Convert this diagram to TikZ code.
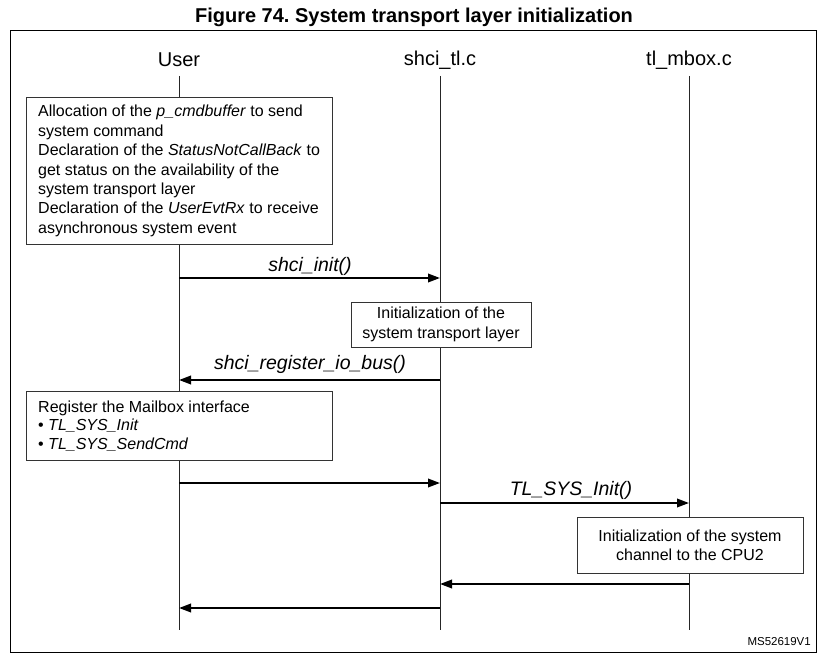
\documentclass[tikz,border=0pt]{standalone}
\usepackage{fontspec}
\setmainfont{Liberation Sans}
\usetikzlibrary{arrows.meta}
\frenchspacing
\begin{document}
\begin{tikzpicture}[x=1pt,y=-1pt,
  hdr/.style={font=\fontsize{20}{24}\selectfont, inner sep=0pt},
  lbl/.style={font=\fontsize{19.5}{23}\selectfont\itshape, inner sep=0pt},
  lifeline/.style={line width=1pt, draw=black!85},
  msg/.style={line width=2pt, -{Triangle[length=12pt,width=8.5pt]}},
  frame/.style={draw=black!80, line width=1pt, fill=white, inner sep=0pt},
  boxtxt/.style={align=left, inner sep=0pt, font=\fontsize{16}{19.4}\selectfont},
  boxc/.style={draw=black!80, line width=1pt, fill=white, align=center, inner sep=0pt,
               font=\fontsize{16}{19.4}\selectfont}]
\useasboundingbox (0,0) rectangle (830,669);
% title and frame
\node[font=\fontsize{20}{24}\selectfont\bfseries, inner sep=0pt] (title) at (414,17) {Figure 74. System transport layer initialization};
\draw[line width=1pt] (10,31) rectangle (816,652);
% headers
\node[hdr] (user) at (179,60) {User};
\node[hdr] (shci) at (440,60) {shci\_tl.c};
\node[hdr] (mbox) at (689,60) {tl\_mbox.c};
\coordinate (uT) at (179,76); \coordinate (uB) at (179,630);
\coordinate (sT) at (440,76); \coordinate (sB) at (440,630);
\coordinate (mT) at (689,76); \coordinate (mB) at (689,630);
\draw[lifeline] (uT) -- (uB);
\draw[lifeline] (sT) -- (sB);
\draw[lifeline] (mT) -- (mB);
% box 1
\node[frame, anchor=north west, minimum width=306pt, minimum height=147pt] (b1) at (26,97) {};
\node[boxtxt, anchor=west] (b1t) at ([xshift=12pt]b1.west)
 {Allocation of the \textit{p\_cmdbuffer} to send\\
  system command\\
  Declaration of the \textit{StatusNotCallBack} to\\
  get status on the availability of the\\
  system transport layer\\
  Declaration of the \textit{UserEvtRx} to receive\\
  asynchronous system event};
% shci_init
\coordinate (a1s) at (179,278); \coordinate (a1e) at (440,278);
\draw[msg] (a1s) -- (a1e);
\node[lbl] (l1) at (310,266) {shci\_init()};
% init transport box
\node[boxc, minimum width=180pt, minimum height=45pt] (b2) at (441,324.5)
 {Initialization of the\\system transport layer};
% register io bus
\coordinate (a2s) at (440,380); \coordinate (a2e) at (179,380);
\draw[msg] (a2s) -- (a2e);
\node[lbl] (l2) at (310,364) {shci\_register\_io\_bus()};
% box 3
\node[frame, anchor=north west, minimum width=306pt, minimum height=69pt] (b3) at (26,391) {};
\node[boxtxt, anchor=west, font=\fontsize{16}{18.5}\selectfont] (b3t) at ([xshift=12pt]b3.west)
 {Register the Mailbox interface\\
  \textbullet\ \textit{TL\_SYS\_Init}\\
  \textbullet\ \textit{TL\_SYS\_SendCmd}};
% arrow user -> shci
\coordinate (a3s) at (179,483); \coordinate (a3e) at (440,483);
\draw[msg] (a3s) -- (a3e);
% TL_SYS_Init
\coordinate (a4s) at (440,503); \coordinate (a4e) at (689,503);
\draw[msg] (a4s) -- (a4e);
\node[lbl] (l4) at (571,490) {TL\_SYS\_Init()};
% box 4
\node[boxc, minimum width=226pt, minimum height=56pt] (b4) at (690,545)
 {Initialization of the system\\channel to the CPU2};
% returns
\coordinate (a5s) at (689,584); \coordinate (a5e) at (440,584);
\draw[msg] (a5s) -- (a5e);
\coordinate (a6s) at (440,608); \coordinate (a6e) at (179,608);
\draw[msg] (a6s) -- (a6e);
% id
\node[font=\fontsize{11.5}{13}\selectfont, inner sep=0pt, anchor=east] (id) at (811,642) {MS52619V1};
\end{tikzpicture}
\end{document}
